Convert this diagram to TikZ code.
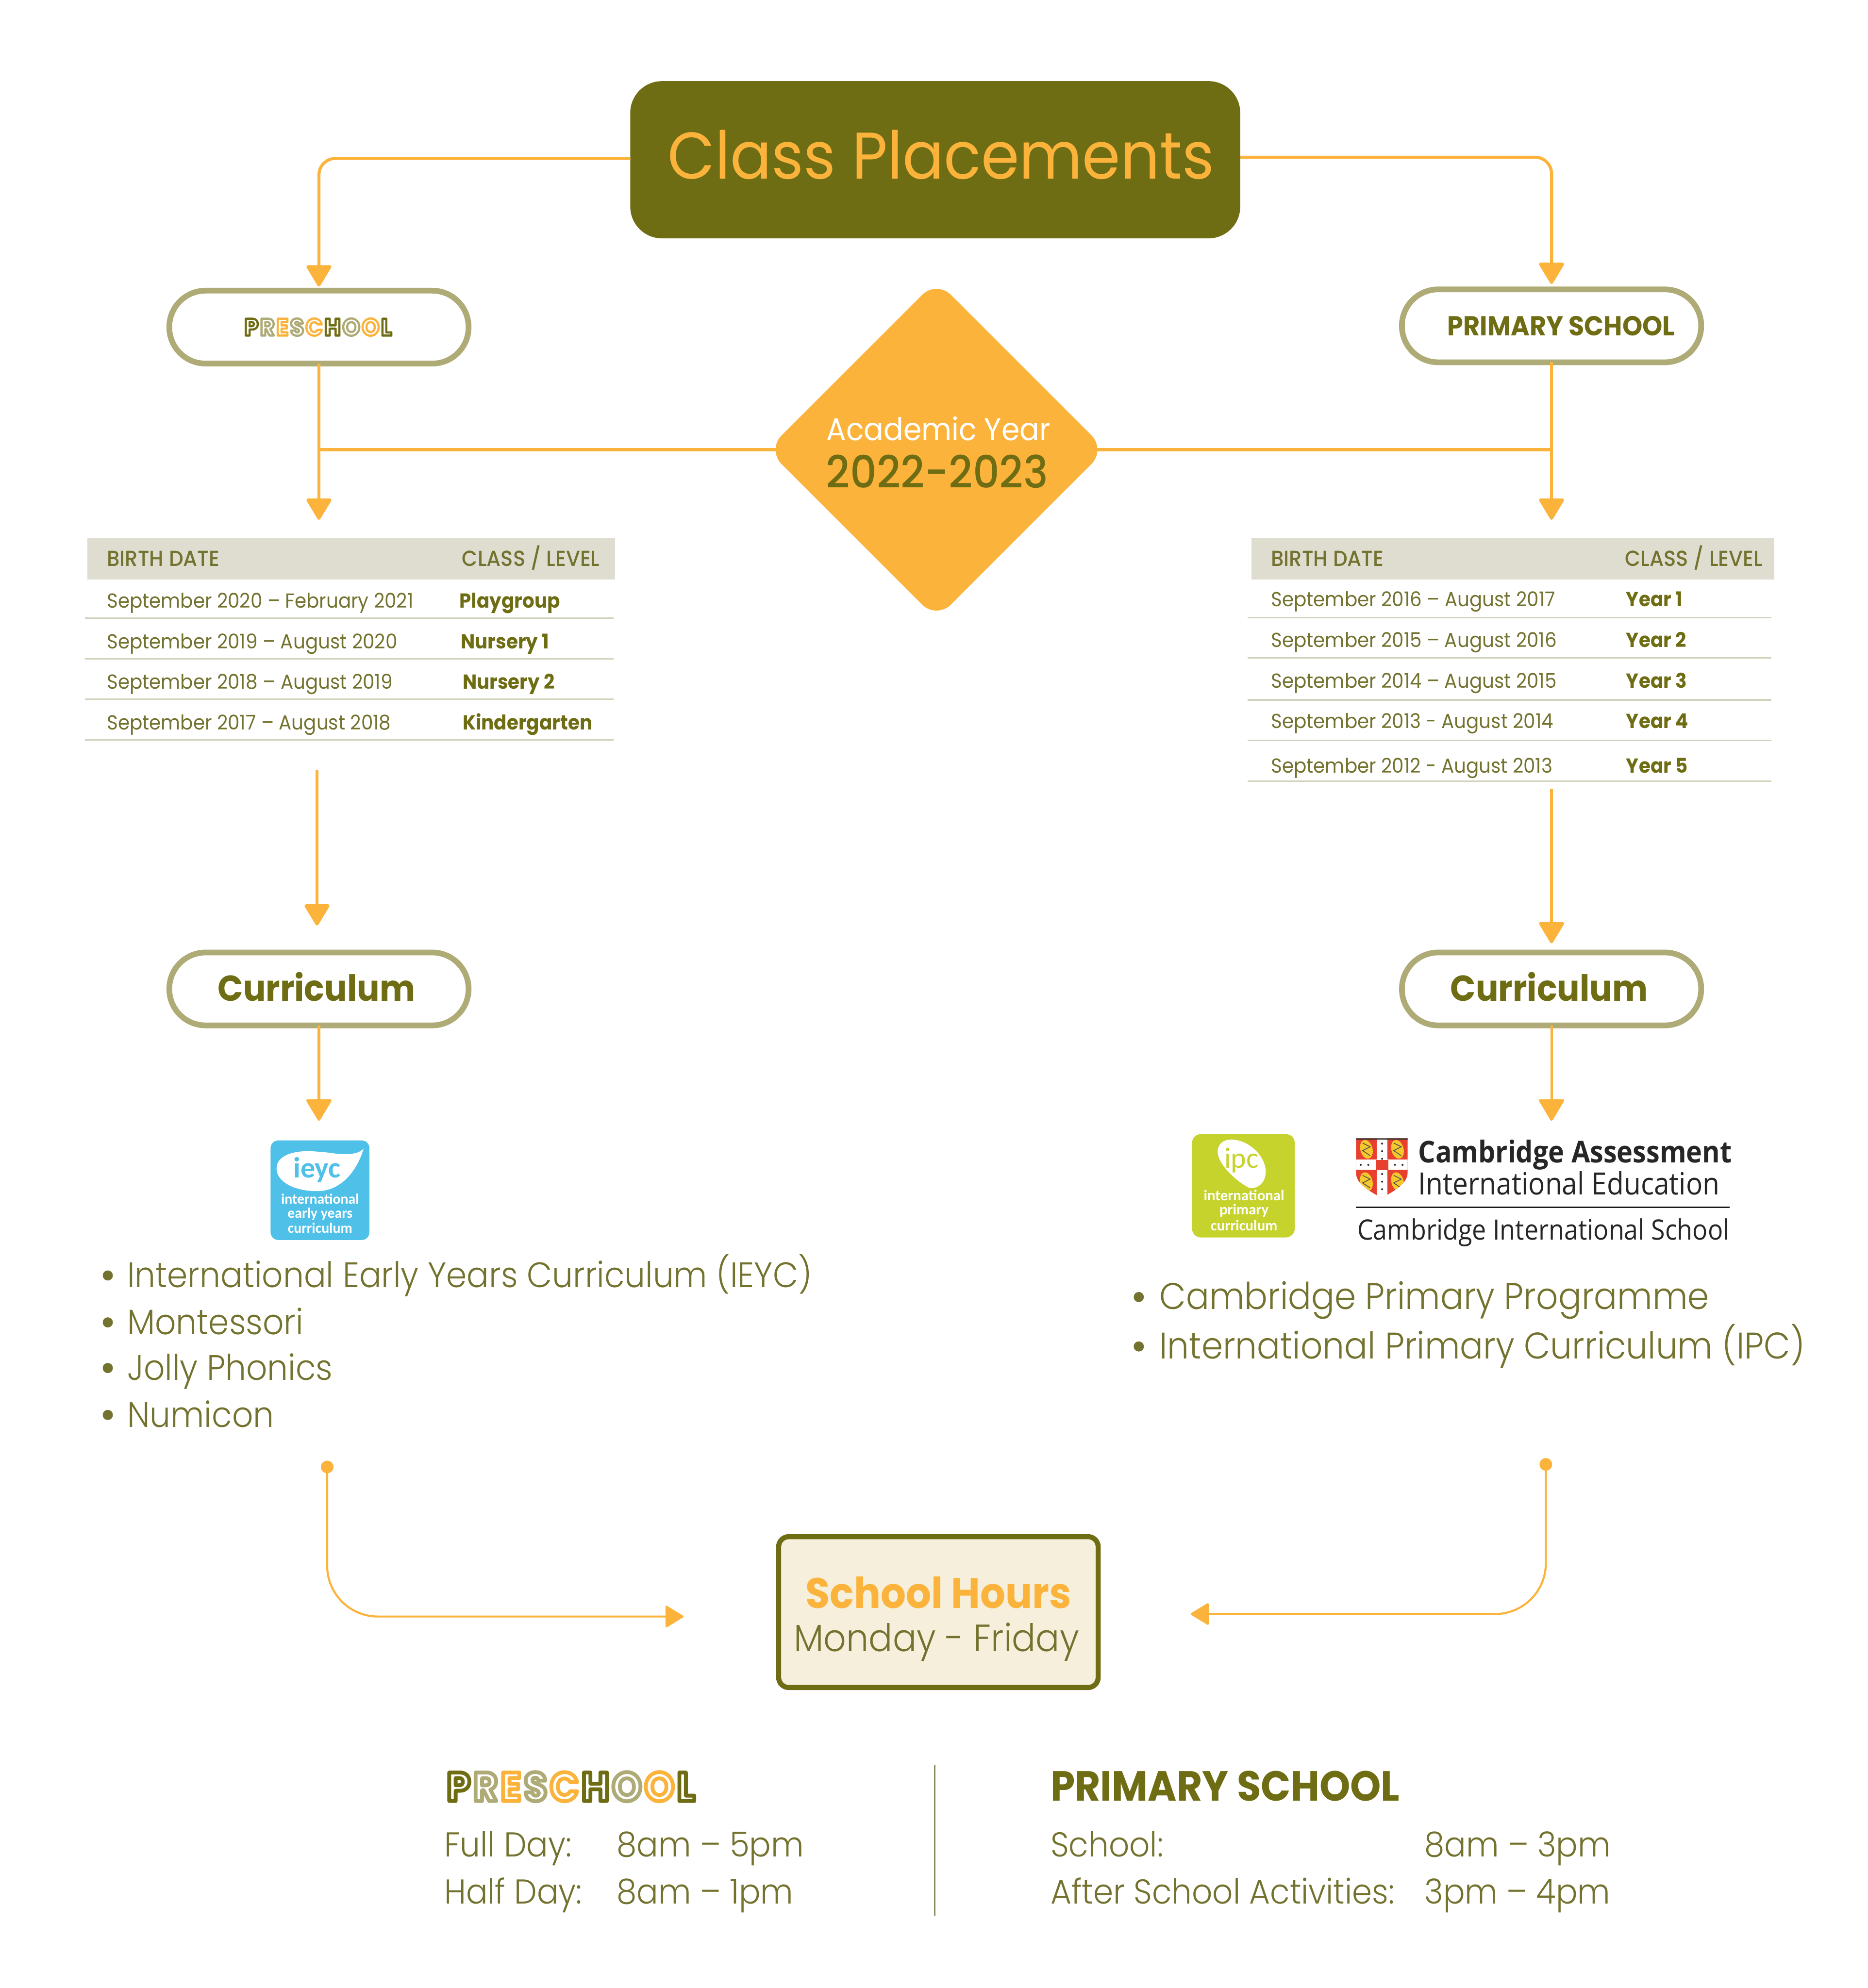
\documentclass[tikz,border=0pt]{standalone}
\usepackage{fontspec}
\setmainfont[FakeStretch=0.93]{Poppins}
\newfontfamily\medfont[FakeStretch=0.93]{Poppins Medium}
\newfontfamily\lightfont[FakeStretch=0.93]{Poppins Light}
\newfontfamily\logofont{Carlito}
\newfontfamily\crestfont[FakeStretch=0.9]{Open Sans}
\usetikzlibrary{positioning,arrows.meta,calc,shapes.geometric}

\definecolor{boxolive}{HTML}{6F6D13}
\definecolor{textolive}{HTML}{73722F}
\definecolor{amber}{HTML}{FBB33B}
\definecolor{khaki}{HTML}{AEAB76}
\definecolor{headband}{HTML}{DFDDD0}
\definecolor{rowrule}{HTML}{D3D2BC}
\definecolor{cream}{HTML}{F5EFDC}
\definecolor{ieycblue}{HTML}{4FC0E8}
\definecolor{ipcgreen}{HTML}{C5D32C}
\definecolor{crestred}{HTML}{E8402F}
\definecolor{crestgold}{HTML}{F5C92E}

% letters with a white core: fill white, stroke in the letter colour
\newcommand{\ltr}[2]{{\color{#1}\special{pdf:code 1 1 1 rg}#2\kern0.07em}}
\newcommand{\inlineword}[1]{\special{pdf:code #1 w 1 j 2 Tr}%
  \ltr{boxolive}{P}\ltr{khaki}{R}\ltr{amber}{E}\ltr{khaki}{S}\ltr{amber}{C}%
  \ltr{boxolive}{H}\ltr{khaki}{O}\ltr{amber}{O}\ltr{boxolive}{L}%
  \special{pdf:code 0 Tr 1 w 0 j}}

\begin{document}
\begin{tikzpicture}[
  x=0.5pt, y=-0.5pt,
  pill/.style={draw=khaki, line width=2.25pt, fill=white, rounded corners=14.3pt,
    minimum width=118pt, minimum height=28.75pt, outer sep=0pt, inner sep=0pt},
  flow/.style={amber, line width=1.2pt,
    -{Triangle[length=9pt,width=10.5pt,round]}, line join=round},
  link/.style={amber, line width=1.2pt},
  thinflow/.style={amber, line width=0.8pt,
    -{Triangle[length=7.5pt,width=9pt,round]}, rounded corners=20pt},
  rowtext/.style={anchor=mid west, inner sep=0pt, text=textolive, font=\fontsize{8}{10}\selectfont},
  rowclass/.style={anchor=mid west, inner sep=0pt, text=boxolive, font=\fontsize{8}{10}\selectfont\bfseries},
  headtext/.style={anchor=mid west, inner sep=0pt, text=textolive, font=\medfont\fontsize{8.6}{10}\selectfont},
  listtext/.style={anchor=mid west, inner sep=0pt, yshift=-2pt, text=textolive, font=\lightfont\fontsize{13.95}{16}\selectfont},
  hourtext/.style={anchor=mid west, inner sep=0pt, yshift=-2pt, text=textolive, font=\lightfont\fontsize{13.6}{16}\selectfont},
  logotext/.style={inner sep=0pt, text=white, font=\logofont\fontsize{5.7}{7}\selectfont\bfseries},
  crest/.style={anchor=base west, inner sep=0pt, text=black!85}
]
\path[use as bounding box] (0,0) rectangle (1473,1568);

% Title and the two school pills
\node[fill=boxolive, rounded corners=12.5pt, minimum width=240.5pt,
  minimum height=62pt, inner sep=0pt, outer sep=0pt] (title) at (737.5,126) {};
\node[text=amber, inner sep=0pt, font=\fontsize{26}{30}\selectfont] (titleText) at (742,122) {Class Placements};
\node[pill, font=\fontsize{9.5}{10}\selectfont\bfseries] (pre) at (251.5,258) {\inlineword{0.85}};
\node[pill, text=boxolive, font=\fontsize{10.8}{10}\selectfont\bfseries] (pri) at (1223.5,257) {\hspace*{7.5pt}PRIMARY SCHOOL};

\coordinate (preTop) at (251.5,226);
\coordinate (priTop) at (1223.5,224);
\draw[flow, rounded corners=6.5pt] ([yshift=0.5pt]title.west) -| (preTop);
\draw[flow, rounded corners=6.5pt] ([yshift=1pt]title.east) -| (priTop);

% Centre diamond with the year
\node[diamond, fill=amber, rounded corners=8pt, inner sep=0pt, outer sep=0pt,
  minimum width=133.5pt, minimum height=133.5pt] (year) at (738.5,354.7) {};
\node[text=white, inner sep=0pt, font=\fontsize{12.4}{14}\selectfont] (acad) at (740,338) {Academic Year};
\node[text=boxolive, inner sep=0pt, font=\medfont\fontsize{17.6}{20}\selectfont] (span) at (739,372) {2022-2023};

\coordinate (preTable) at (251.5,410);
\coordinate (priTable) at (1223.5,410);
\draw[flow] (pre.south) -- (preTable);
\draw[flow] (pri.south) -- (priTable);
\draw[link, shorten <=-4pt] (year.west) -- (year.west -| pre.south);
\draw[link, shorten <=-4pt] (year.east) -- (year.east -| pri.south);

% Preschool table
\fill[headband] (69,424) rectangle (485,457);
\node[headtext] (preBirth) at (84,441) {BIRTH DATE};
\node[headtext] (preLevel) at (364,441) {CLASS / LEVEL};
\foreach \i/\yy/\cx/\born/\lvl in {
  1/474/362/September 2020 – February 2021/Playgroup,
  2/506/363/September 2019 – August 2020/Nursery 1,
  3/538/364.5/September 2018 – August 2019/Nursery 2,
  4/570/364.5/September 2017 – August 2018/Kindergarten}{
  \node[rowtext] (preB\i) at (84,\yy) {\born};
  \node[rowclass] (preC\i) at (\cx,\yy) {\lvl};
  \draw[rowrule, line width=0.6pt] (67,\yy+13.5) -- (484,\yy+13.5);
}

% Primary table
\fill[headband] (987,424) rectangle (1399,457);
\node[headtext] (priBirth) at (1002,441) {BIRTH DATE};
\node[headtext] (priLevel) at (1281,441) {CLASS / LEVEL};
\foreach \i/\yy/\ry/\born/\lvl in {
  1/473/487/September 2016 – August 2017/Year 1,
  2/505/519/September 2015 – August 2016/Year 2,
  3/537/552/September 2014 – August 2015/Year 3,
  4/569/584/September 2013 - August 2014/Year 4,
  5/604/616/September 2012 - August 2013/Year 5}{
  \node[rowtext] (priB\i) at (1002,\yy) {\born};
  \node[rowclass] (priC\i) at (1282,\yy) {\lvl};
  \draw[rowrule, line width=0.6pt] (984,\ry) -- (1397,\ry);
}

% Curriculum pills
\node[pill, text=boxolive, font=\fontsize{14.2}{18}\selectfont\bfseries] (curL) at (251.5,780) {\raisebox{2pt}{Curriculum}\hspace*{2pt}};
\node[pill, text=boxolive, font=\fontsize{14.2}{18}\selectfont\bfseries] (curR) at (1223.5,780) {\raisebox{2pt}{Curriculum}\hspace*{2pt}};
\coordinate (preOut) at (250,607);
\coordinate (preIn) at (250,730);
\coordinate (priOut) at (1223.5,622);
\coordinate (priIn) at (1223.5,744);
\draw[flow] (preOut) -- (preIn);
\draw[flow] (priOut) -- (priIn);
\coordinate (curLend) at (251.5,884);
\coordinate (curRend) at (1223.5,884);
\draw[flow, line width=1pt] (curL.south) -- (curLend);
\draw[flow, line width=1pt] (curR.south) -- (curRend);

% IEYC logo
\fill[ieycblue, rounded corners=3pt] (213.4,899.5) rectangle (291.3,978);
\fill[white] (286.8,905.9) .. controls (282,911) and (272,911) .. (262,909.5)
  .. controls (250,908) and (241,907.5) .. (235,908.5)
  .. controls (224,910) and (218,915) .. (218.1,921.7)
  .. controls (218.1,932) and (232,939.5) .. (250,939.5)
  .. controls (268,939.5) and (281,925) .. cycle;
\node[logotext, text=ieycblue, font=\logofont\fontsize{11.5}{14}\selectfont\bfseries] (ieyc) at (250,922.5) {ieyc};
\node[logotext] (ieycA) at (252.4,945.6) {international};
\node[logotext] (ieycB) at (252.4,957.4) {early years};
\node[logotext] (ieycC) at (252.4,968.6) {curriculum};

% IPC logo
\fill[ipcgreen, rounded corners=3.5pt] (940,894.5) rectangle (1021,976);
\fill[white] (971,898.8) .. controls (985,899) and (998,912) .. (998.1,924)
  .. controls (998,933) and (992,937.5) .. (985.5,937.1)
  .. controls (975,932) and (960,918) .. (960.2,908)
  .. controls (960.5,902) and (965,898.8) .. cycle;
\node[logotext, text=ipcgreen, font=\logofont\fontsize{11.5}{14}\selectfont] (ipc) at (979,915) {ipc};
\node[logotext, font=\logofont\fontsize{5.9}{7}\selectfont\bfseries] (ipcA) at (981,942.7) {international};
\node[logotext, font=\logofont\fontsize{5.9}{7}\selectfont\bfseries] (ipcB) at (981,954.8) {primary};
\node[logotext, font=\logofont\fontsize{5.9}{7}\selectfont\bfseries] (ipcC) at (981,966.6) {curriculum};

% Cambridge crest
\begin{scope}
  \clip (1069.3,897.8) -- (1110,897.8) -- (1110,925)
    .. controls (1110,934) and (1098,940) .. (1089.6,944.9)
    .. controls (1081,940) and (1069.3,934) .. (1069.3,925) -- cycle;
  \fill[crestred] (1069,897) rectangle (1111,946);
  \fill[white] (1085.8,897) rectangle (1094,946);
  \fill[white] (1069,914.7) rectangle (1111,922.7);
  \fill[black!80] (1069,897) rectangle (1111,899);
  \fill[crestred] (1085,915) rectangle (1095,923);
  \foreach \cx/\cy in {1077.5/906.5,1102/906.5,1077.5/932,1102/932}{
    \fill[crestgold, rotate around={15:(\cx,\cy)}] (\cx,\cy) ellipse (4.8 and 7.5);
    \draw[black!70, line width=0.3pt] (\cx-3,\cy-5) -- (\cx+3,\cy-2) -- (\cx-3,\cy+1) -- (\cx+3,\cy+5);
  }
  \foreach \cy in {902,908,914,926,932,938}{
    \fill[black!80] (1089.9,\cy) circle (0.8);
  }
  \foreach \cx in {1073,1079,1100,1106}{
    \fill[black!80] (\cx,918.7) circle (0.8);
  }
\end{scope}
\node[crest, font=\crestfont\fontsize{11.85}{14}\selectfont\bfseries] (camA) at (1118,917) {Cambridge Assessment};
\node[crest, font=\crestfont\fontsize{12.1}{14}\selectfont] (camB) at (1118,942.2) {International Education};
\draw[black!90, line width=0.7pt] (1069,952.2) -- (1364,952.2);
\node[crest, font=\crestfont\fontsize{11.05}{14}\selectfont] (camC) at (1070,977.8) {Cambridge International School};

% Curriculum lists
\foreach \i/\yy/\item in {1/1006/International Early Years Curriculum (IEYC),
  2/1043/Montessori, 3/1079/Jolly Phonics, 4/1116/Numicon}{
  \node[listtext] (listL\i) at (100,\yy) {\item};
  \fill[textolive] (85,\yy) circle (4);
}
\foreach \i/\yy/\item in {1/1023/Cambridge Primary Programme,
  2/1062/International Primary Curriculum (IPC)}{
  \node[listtext, font=\lightfont\fontsize{14.6}{16}\selectfont] (listR\i) at (914,\yy) {\item};
  \fill[textolive] (898,\yy) circle (4);
}

% School hours box
\node[fill=cream, draw=boxolive, line width=2pt, rounded corners=4pt, inner sep=0pt, outer sep=0pt,
  minimum width=126pt, minimum height=59.5pt] (hours) at (740,1271.5) {};
\node[text=amber, inner sep=0pt, font=\fontsize{16.8}{18}\selectfont\bfseries] (hoursA) at (740,1256) {School Hours};
\node[text=textolive, inner sep=0pt, font=\lightfont\fontsize{15}{18}\selectfont] (hoursB) at (738.5,1295) {Monday - Friday};

\coordinate (dotL) at (258,1157);
\coordinate (dotR) at (1219,1155);
\coordinate (hoursL) at (539,1275);
\coordinate (hoursR) at (939,1273);
\fill[amber] (dotL) circle (5);
\fill[amber] (dotR) circle (5);
\draw[thinflow] (dotL) |- (hoursL);
\draw[thinflow] (dotR) |- (hoursR);

% Hours per school
\node[anchor=mid west, inner sep=0pt, font=\fontsize{16}{20}\selectfont\bfseries] (preHead) at (352,1415) {\inlineword{1.5}};
\node[anchor=mid west, inner sep=0pt, text=boxolive, font=\fontsize{16.6}{20}\selectfont\bfseries] (priHead) at (828,1415) {PRIMARY SCHOOL};
\draw[khaki!80!black, line width=0.5pt] (737,1392) -- (737,1511);
\foreach \i/\yy/\lbl/\tm in {1/1455/Full Day:/8am – 5pm, 2/1492/Half Day:/8am – 1pm}{
  \node[hourtext] (preL\i) at (350,\yy) {\lbl};
  \node[hourtext] (preT\i) at (486,\yy) {\tm};
}
\foreach \i/\yy/\lbl/\tm in {1/1455/School:/8am – 3pm, 2/1492/After School Activities:/3pm – 4pm}{
  \node[hourtext] (priL\i) at (828,\yy) {\lbl};
  \node[hourtext] (priT\i) at (1123,\yy) {\tm};
}
\end{tikzpicture}
\end{document}
